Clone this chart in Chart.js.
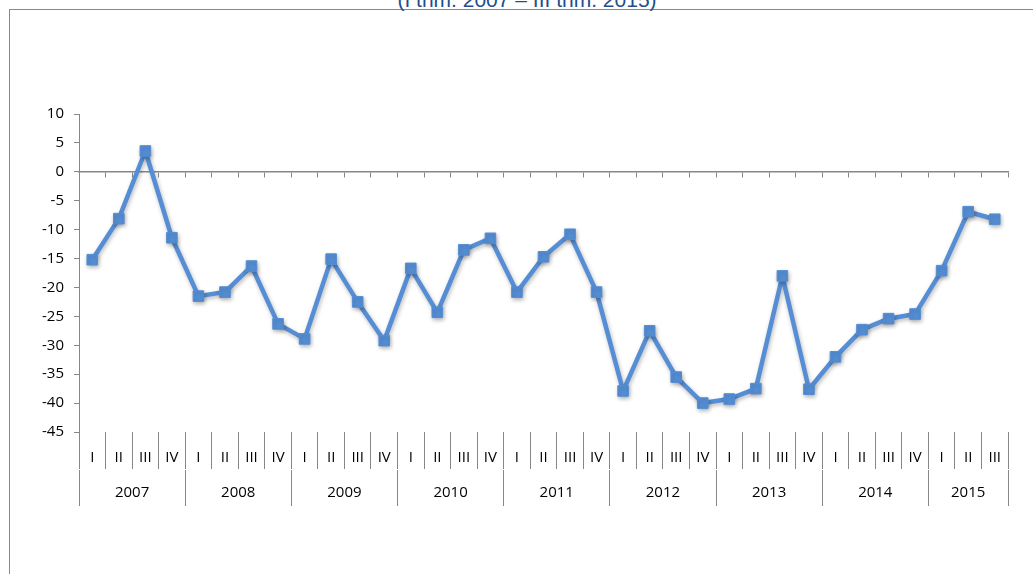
<!DOCTYPE html>
<html lang="en">
<head>
    <meta charset="UTF-8">
    <title>I thm. 2007 - III thm. 2015</title>
    <script src="https://cdn.jsdelivr.net/npm/chart.js@4.4.1/dist/chart.umd.min.js"></script>
    <style>
        html, body { margin: 0; padding: 0; background: #fff; overflow: hidden; }
        #wrap { position: relative; width: 1033px; height: 574px; overflow: hidden; }
        #frame {
            position: absolute; left: 9px; top: 9px; width: 1100px; height: 700px;
            border: 1px solid #8a8a8a; box-sizing: border-box;
        }
        #title {
            position: absolute; left: 0; width: 1054px; top: -11px; text-align: center;
            font-family: "Liberation Sans", Arial, sans-serif; font-size: 21px; line-height: 21px;
            color: #1f4e8c;
        }
        #chart { position: absolute; left: 0; top: 0; }
    </style>
</head>
<body>
<div id="wrap">
    <div id="frame"></div>
    <div id="title">(I thm. 2007 – III thm. 2015)</div>
    <canvas id="chart" width="1033" height="574"></canvas>
</div>
<script>
    // data
    var years = ['2007', '2008', '2009', '2010', '2011', '2012', '2013', '2014', '2015'];
    var quartersPerYear = [4, 4, 4, 4, 4, 4, 4, 4, 3];
    var quarterNames = ['I', 'II', 'III', 'IV'];
    var values = [
        -15.2, -8.1, 3.6, -11.4,
        -21.5, -20.8, -16.3, -26.3,
        -28.9, -15.1, -22.5, -29.2,
        -16.7, -24.3, -13.5, -11.5,
        -20.8, -14.7, -10.8, -20.8,
        -37.9, -27.5, -35.5, -40.0,
        -39.3, -37.5, -18.0, -37.6,
        -32.0, -27.3, -25.4, -24.6,
        -17.1, -6.9, -8.2
    ];
    var yMin = -45, yMax = 10, yStep = 5;

    // build the category labels and year positions
    var labels = [];
    var quarterLabels = [];
    var yearBounds = [-0.5];
    var yearCenters = {};
    var idx = 0;
    for (var i = 0; i < years.length; i++) {
        for (var q = 0; q < quartersPerYear[i]; q++) {
            labels.push(years[i] + ' ' + quarterNames[q]);
            quarterLabels.push(quarterNames[q]);
        }
        yearCenters[idx + (quartersPerYear[i] - 1) / 2] = years[i];
        idx += quartersPerYear[i];
        yearBounds.push(idx - 0.5);
    }

    var axisGray = '#878787';
    var font = { family: '"Open Sans", "Noto Sans", sans-serif', size: 15 };

    // soft shadow like the original
    var shadowPlugin = {
        id: 'shadow',
        beforeDatasetsDraw: function (chart) {
            var ctx = chart.ctx;
            ctx.save();
            ctx.shadowColor = 'rgba(0,0,0,0.28)';
            ctx.shadowBlur = 4;
            ctx.shadowOffsetX = 1;
            ctx.shadowOffsetY = 2;
        },
        afterDatasetsDraw: function (chart) {
            chart.ctx.restore();
        }
    };

    var ctx = document.getElementById('chart').getContext('2d');
    var myChart = new Chart(ctx, {
        type: 'line',
        data: {
            labels: labels,
            datasets: [{
                data: values,
                borderColor: '#558ed5',
                backgroundColor: '#558ed5',
                borderWidth: 4.5,
                borderJoinStyle: 'round',
                borderCapStyle: 'round',
                pointStyle: 'rect',
                pointRadius: 7.5,
                pointBorderWidth: 1,
                pointBorderColor: '#558ed5',
                tension: 0,
                fill: false
            }]
        },
        options: {
            responsive: false,
            animation: false,
            layout: { padding: { left: 20, top: 114, right: 25, bottom: 68 } },
            plugins: {
                legend: { display: false },
                tooltip: { enabled: false }
            },
            scales: {
                y: {
                    min: yMin,
                    max: yMax,
                    ticks: { stepSize: yStep, color: '#000', font: font, padding: 10 },
                    grid: { drawOnChartArea: false, drawTicks: true, tickLength: 5, color: axisGray },
                    border: { display: true, color: axisGray, width: 1 },
                    afterFit: function (scale) { scale.width = 59; }
                },
                x: {
                    position: { y: 0 },
                    offset: true,
                    ticks: { display: false },
                    grid: { offset: true, drawOnChartArea: false, drawTicks: true, tickLength: 5, color: axisGray },
                    border: { display: true, color: axisGray, width: 1.5 }
                },
                xq: {
                    type: 'category',
                    position: 'bottom',
                    offset: true,
                    ticks: {
                        autoSkip: false, maxRotation: 0, color: '#000', font: font, padding: -20,
                        callback: function (value, index) { return quarterLabels[index]; }
                    },
                    grid: { offset: true, drawOnChartArea: false, drawTicks: true, tickLength: 37, color: axisGray },
                    border: { display: false },
                    afterFit: function (scale) { scale.height = 38; }
                },
                xy: {
                    type: 'linear',
                    position: 'bottom',
                    min: -0.5,
                    max: labels.length - 0.5,
                    afterBuildTicks: function (scale) {
                        var vals = yearBounds.concat(Object.keys(yearCenters).map(Number));
                        vals.sort(function (a, b) { return a - b; });
                        scale.ticks = vals.map(function (v) { return { value: v }; });
                    },
                    ticks: {
                        autoSkip: false, maxRotation: 0, color: '#000', font: font, padding: -22,
                        callback: function (value) { return yearCenters[value] || ''; }
                    },
                    grid: {
                        drawOnChartArea: false, drawTicks: true, tickLength: 36,
                        color: function (c) {
                            return (c.tick && yearBounds.indexOf(c.tick.value) >= 0) ? axisGray : 'rgba(0,0,0,0)';
                        }
                    },
                    border: { display: false },
                    afterFit: function (scale) { scale.height = 36; }
                }
            }
        },
        plugins: [shadowPlugin]
    });
</script>
</body>
</html>
